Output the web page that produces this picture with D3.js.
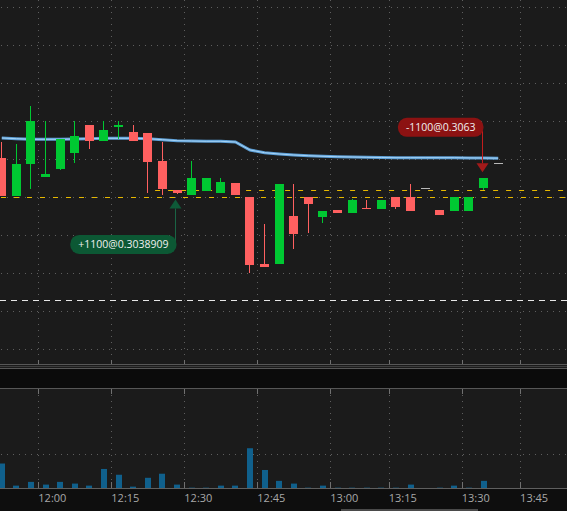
<!DOCTYPE html>
<html>
<head>
<meta charset="utf-8">
<script src="https://cdn.jsdelivr.net/npm/d3@7"></script>
<style>
  body { margin: 0; background: #1b1b1b; }
  svg { display: block; }
</style>
</head>
<body>
<svg width="567" height="511"></svg>
<script>
// 3 minute bars (no bar for 13:09 and 13:42)
var slots = ["11:51","11:54","11:57","12:00","12:03","12:06","12:09","12:12","12:15","12:18",
  "12:21","12:24","12:27","12:30","12:33","12:36","12:39","12:42","12:45","12:48",
  "12:51","12:54","12:57","13:00","13:03","13:06","13:12","13:15","13:18","13:21",
  "13:24","13:27","13:30","13:33","13:36","13:39","13:45"];

var open  = [.30793,.30413,.30733,.30606,.30683,.30846,.31126,.30966,.31106,.31053,
  .31043,.30763,.30473,.30423,.30466,.30446,.30543,.30400,.29733,.29733,
  .30213,.30400,.30203,.30270,.30246,.30293,.30283,.30400,.30400,.30490,
  .30273,.30266,.30266,.30496,.30743];
var high  = [.30956,.30933,.31313,.31163,.30980,.31160,.31126,.31160,.31160,.31123,
  .31043,.30956,.30473,.30766,.30593,.30590,.30543,.30400,.30130,.30533,
  .30533,.30400,.30263,.30270,.30383,.30373,.30373,.30400,.30533,.30490,
  .30273,.30400,.30400,.30593,.30743];
var low   = [.30413,.30413,.30480,.30606,.30673,.30740,.30886,.30966,.30980,.30966,
  .30440,.30420,.30433,.30423,.30466,.30446,.30426,.29640,.29703,.29733,
  .29886,.30040,.30140,.30246,.30246,.30283,.30283,.30286,.30266,.30490,
  .30226,.30266,.30266,.30473,.30743];
var close = [.30413,.30733,.31163,.30633,.30980,.31013,.30966,.31073,.31126,.30966,
  .30756,.30486,.30446,.30590,.30593,.30553,.30426,.29723,.29703,.30533,
  .30033,.30333,.30263,.30246,.30373,.30283,.30373,.30306,.30266,.30490,
  .30226,.30400,.30400,.30593,.30743];
var volume = [7200,700,1800,1000,1800,1300,700,5600,3900,400,
  3000,4200,1000,100,100,700,700,11700,5300,2100,
  1300,100,700,100,100,100,100,100,1000,0,
  100,700,100,2100,0];
var avgLine = [.30993,.30986,.30980,.30980,.30980,.30983,.30986,.30990,.30990,.30990,
  .30986,.30976,.30966,.30963,.30960,.30960,.30953,.30873,.30846,.30833,
  .30823,.30816,.30810,.30806,.30803,.30800,.30798,.30796,.30796,.30796,
  .30796,.30796,.30794,.30793,.30791];

var tickLabels = ["12:00","12:15","12:30","12:45","13:00","13:15","13:30","13:45"];

var buyTrade = {time: "12:27", price: 0.3038909, text: "+1100@0.3038909"};
var sellTrade = {time: "13:33", price: 0.3063, text: "-1100@0.3063"};
var yellowLevels = [{price: 0.30470, from: "12:24"}, {price: 0.30400, from: null}];
var whiteLevels = [0.29373];

var svg = d3.select("svg");
var W = 567;

var x = d3.scaleBand().domain(slots).range([-5.5, -5.5 + slots.length * 14.6]);
var y = d3.scaleLinear().domain([0.28733, 0.32373]).range([364, 0]);
var yVol = d3.scaleLinear().domain([0, 10000]).range([488, 454]);
function cx(t){ return x(t) + x.bandwidth() / 2; }
function crisp(v){ return Math.round(v) + 0.5; }

var candles = open.map(function(o, i){
  return {t: slots[i], o: o, h: high[i], l: low[i], c: close[i], v: volume[i], a: avgLine[i]};
});

// backgrounds
svg.append("rect").attr("width", W).attr("height", 511).attr("fill", "#1b1b1b");
svg.append("rect").attr("y", 369).attr("width", W).attr("height", 19).attr("fill", "#0b0b0b");
svg.append("rect").attr("y", 489).attr("width", W).attr("height", 22).attr("fill", "#0e0e0e");

// grid
var gridPrices = d3.range(10).map(function(k){ return 0.2888 + k * 0.0038; });
var grid = svg.append("g").attr("stroke", "#5e5e5e").attr("stroke-dasharray", "1,5");
grid.selectAll(".hp").data(gridPrices).enter().append("line")
  .attr("x1", 1).attr("x2", W)
  .attr("y1", function(d){ return crisp(y(d)); }).attr("y2", function(d){ return crisp(y(d)); });
grid.append("line").attr("x1", 1).attr("x2", W)
  .attr("y1", crisp(yVol(10000))).attr("y2", crisp(yVol(10000)));
grid.selectAll(".vp").data(tickLabels).enter().append("line")
  .attr("x1", function(d){ return crisp(x(d)); }).attr("x2", function(d){ return crisp(x(d)); })
  .attr("y1", 0).attr("y2", 364);
grid.selectAll(".vv").data(tickLabels).enter().append("line")
  .attr("x1", function(d){ return crisp(x(d)); }).attr("x2", function(d){ return crisp(x(d)); })
  .attr("y1", 389).attr("y2", 488);

// pane borders
var borders = [[364.5, "#575757"], [366.5, "#3c3c3c"], [368.5, "#575757"], [388.5, "#575757"], [488.5, "#5f5f5f"]];
svg.selectAll(".border").data(borders).enter().append("line")
  .attr("x1", 0).attr("x2", W).attr("y1", function(d){ return d[0]; }).attr("y2", function(d){ return d[0]; })
  .attr("stroke", function(d){ return d[1]; });

// tick marks
var tickMarks = [[360, 364], [389, 394], [482, 488]];
tickMarks.forEach(function(m){
  svg.selectAll(null).data(tickLabels).enter().append("line")
    .attr("x1", function(d){ return crisp(x(d)); }).attr("x2", function(d){ return crisp(x(d)); })
    .attr("y1", m[0]).attr("y2", m[1]).attr("stroke", "#707070");
});

// time labels
svg.selectAll(".tl").data(tickLabels).enter().append("text")
  .attr("x", function(d){ return x(d); }).attr("y", 502)
  .attr("fill", "#a8a8a8").attr("font-family", "'Open Sans', sans-serif").attr("font-size", 11)
  .text(function(d){ return d; });

// scrollbar
svg.append("rect").attr("x", 341).attr("y", 509).attr("width", 137).attr("height", 2).attr("fill", "#4a4a4a");

// reference levels
svg.selectAll(".wl").data(whiteLevels).enter().append("line")
  .attr("x1", 0).attr("x2", W)
  .attr("y1", function(d){ return crisp(y(d)); }).attr("y2", function(d){ return crisp(y(d)); })
  .attr("stroke", "#e6e6e6").attr("stroke-dasharray", "6,5");
svg.selectAll(".yl").data(yellowLevels).enter().append("line")
  .attr("x1", function(d){ return d.from ? x(d.from) : 1; }).attr("x2", W)
  .attr("y1", function(d){ return crisp(y(d.price)); }).attr("y2", function(d){ return crisp(y(d.price)); })
  .attr("stroke", "#e6b800").attr("stroke-dasharray", "5,8");

// volume
svg.selectAll(".vol").data(candles).enter().append("rect")
  .attr("x", function(d){ return Math.round(cx(d.t) - 3); })
  .attr("width", 6)
  .attr("y", function(d){ return yVol(d.v); })
  .attr("height", function(d){ return 488 - yVol(d.v); })
  .attr("fill", "#10608c");

// average line
var line = d3.line().x(function(d){ return cx(d.t); }).y(function(d){ return y(d.a); });
svg.append("path").datum(candles).attr("d", line).attr("fill", "none")
  .attr("stroke", "#5d9fd6").attr("stroke-width", 3);
svg.append("path").datum(candles).attr("d", line).attr("fill", "none")
  .attr("stroke", "#a6d3f5").attr("stroke-width", 1);

// candles
function col(d){
  if (d.c > d.o) return "#00c832";
  if (d.c < d.o) return "#ff6060";
  return "#b8b8b8";
}
var cg = svg.selectAll(".candle").data(candles).enter().append("g");
cg.append("rect")
  .attr("x", function(d){ return Math.floor(cx(d.t)); }).attr("width", 1)
  .attr("y", function(d){ return Math.round(y(d.h)); })
  .attr("height", function(d){ return Math.max(1, Math.round(y(d.l)) - Math.round(y(d.h))); })
  .attr("fill", col);
cg.append("rect")
  .attr("x", function(d){ return Math.round(cx(d.t) - 4.5); }).attr("width", 9)
  .attr("y", function(d){ return Math.round(y(Math.max(d.o, d.c))); })
  .attr("height", function(d){ return Math.max(1, Math.round(y(Math.min(d.o, d.c))) - Math.round(y(Math.max(d.o, d.c)))); })
  .attr("fill", col);

// trade markers
function trade(t, isBuy, bg, lineCol, triCol){
  var ax = Math.round(cx(t.time)) - 1.5;
  var tip = isBuy ? y(t.price) + 1 : y(t.price) - 2;
  var base = isBuy ? tip + 9 : tip - 9;
  var ly = isBuy ? tip + 45 : tip - 45;
  svg.append("line").attr("x1", ax).attr("x2", ax).attr("y1", base).attr("y2", ly)
    .attr("stroke", lineCol);
  svg.append("path")
    .attr("d", "M" + (ax - 6) + "," + base + "L" + (ax + 6) + "," + base + "L" + ax + "," + tip + "Z")
    .attr("fill", triCol);
  var pill = svg.append("rect");
  var txt = svg.append("text").attr("font-family", "'Open Sans', sans-serif").attr("font-size", 10.5)
    .attr("fill", "#f0f0f0").attr("text-anchor", "middle").text(t.text);
  var w = txt.node().getComputedTextLength() + 16;
  pill.attr("x", ax + 1 - w).attr("y", ly - 9.5).attr("width", w).attr("height", 19)
    .attr("rx", 9).attr("fill", bg);
  txt.attr("x", ax + 1 - w / 2).attr("y", ly + 3.8);
}
trade(buyTrade, true, "#0c5834", "#1a6444", "#0e5a38");
trade(sellTrade, false, "#8c1212", "#c21d1d", "#a21a1a");
</script>
</body>
</html>
